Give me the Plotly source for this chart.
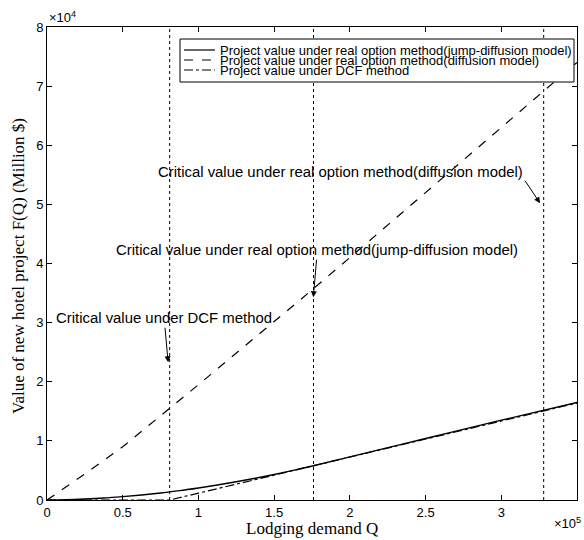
import plotly.graph_objects as go

# Lodging demand Q (x 1e5) and project values F(Q) (x 1e4 Million $)
q_jump = [0, 0.125, 0.25, 0.375, 0.5, 0.625, 0.75, 0.875, 1.0, 1.125, 1.25, 1.375, 1.5, 1.625, 1.76, 2.0, 2.5, 3.0, 3.5]
f_jump = [0, 0.004, 0.016, 0.033, 0.057, 0.085, 0.119, 0.158, 0.204, 0.253, 0.308, 0.367, 0.432, 0.502, 0.58, 0.73, 1.04, 1.35, 1.65]

q_diff = [0, 0.25, 0.5, 0.81, 1.0, 1.5, 1.67, 2.0, 2.5, 3.0, 3.5]
f_diff = [0, 0.44, 0.9, 1.55, 1.95, 3.02, 3.38, 4.1, 5.2, 6.3, 7.4]

q_dcf = [0, 0.81, 1.0, 1.5, 2.0, 2.5, 3.0, 3.5]
f_dcf = [0, 0, 0.116, 0.42, 0.726, 1.03, 1.336, 1.64]

critical_q = [0.81, 1.76, 3.28]

x_ticks = [0, 0.5, 1, 1.5, 2, 2.5, 3, 3.5]
x_ticktext = ["0", "0.5", "1", "1.5", "2", "2.5", "3", "3.5"]
y_ticks = [0, 1, 2, 3, 4, 5, 6, 7, 8]
y_ticktext = ["0", "1", "2", "3", "4", "5", "6", "7", "8"]

legend_names = [
    "Project value under real option method(jump-diffusion model)",
    "Project value under real option method(diffusion model)",
    "Project value under DCF method",
]
legend_dashes = ["solid", "dash", "dashdot"]

SANS = "Liberation Sans, Arial, Helvetica, sans-serif"
SERIF = "Liberation Serif, Times New Roman, serif"

fig = go.Figure()

for cq in critical_q:
    fig.add_trace(go.Scatter(x=[cq, cq], y=[0, 8], mode="lines",
                             line=dict(color="black", width=1, dash="dot"),
                             showlegend=False, hoverinfo="skip"))

fig.add_trace(go.Scatter(x=q_dcf, y=f_dcf, mode="lines", name=legend_names[2],
                         line=dict(color="black", width=1.2, dash="dashdot"), showlegend=False))
fig.add_trace(go.Scatter(x=q_diff, y=f_diff, mode="lines", name=legend_names[1],
                         line=dict(color="black", width=1.2, dash="dash"), showlegend=False))
fig.add_trace(go.Scatter(x=q_jump, y=f_jump, mode="lines", name=legend_names[0], line_shape="spline",
                         line=dict(color="black", width=1.4, dash="solid"), showlegend=False))

# Figure fills the whole window (body margin removed in post_script)
W, H = 584, 540
PL, PR, PT, PB = 47, 577, 27, 500  # plot area in window pixels
L, R, T, B = PL, W - PR, PT, H - PB
pw, ph = PR - PL, PB - PT
def px(xp):
    return (xp - PL) / pw
def py(yp):
    return (PB - yp) / ph

shapes = [dict(type="rect", xref="paper", yref="paper",
               x0=px(180), x1=px(574), y0=py(82), y1=py(39),
               line=dict(color="black", width=1), fillcolor="white", layer="above")]
annotations = []
rows_y = [50, 60, 70]
for name, dash, ry in zip(legend_names, legend_dashes, rows_y):
    shapes.append(dict(type="line", xref="paper", yref="paper",
                       x0=px(184), x1=px(215), y0=py(ry), y1=py(ry),
                       line=dict(color="black", width=1.2, dash=dash), layer="above"))
    annotations.append(dict(xref="paper", yref="paper", x=px(218), y=py(ry),
                            xanchor="left", yanchor="middle", showarrow=False,
                            text=name, font=dict(family=SANS, size=13, color="black")))

ann_font = dict(family=SANS, size=14.9, color="black")
# Critical value annotations
annotations.append(dict(x=1.935, y=5.54, xref="x", yref="y", showarrow=False,
                        text="Critical value under real option method(diffusion model)", font=ann_font))
annotations.append(dict(x=3.256, y=5.02, xref="x", yref="y", text="",
                        showarrow=True, ax=-16, ay=-24, arrowhead=2, arrowsize=1.2,
                        arrowwidth=1, arrowcolor="black"))
annotations.append(dict(x=1.759, y=3.43, xref="x", yref="y",
                        text="Critical value under real option method(jump-diffusion model)", font=ann_font,
                        showarrow=True, ax=4, ay=-47, arrowhead=2, arrowsize=1.2,
                        arrowwidth=1, arrowcolor="black"))
annotations.append(dict(x=0.80, y=2.33, xref="x", yref="y",
                        text="Critical value under DCF method", font=ann_font,
                        showarrow=True, ax=-4, ay=-44, arrowhead=2, arrowsize=1.2,
                        arrowwidth=1, arrowcolor="black"))

# Exponent labels
annotations.append(dict(xref="paper", yref="paper", x=0, y=1, xanchor="left", yanchor="bottom",
                        yshift=0, showarrow=False, text="×10<sup>4</sup>",
                        font=dict(family=SANS, size=13, color="black")))
annotations.append(dict(xref="paper", yref="paper", x=px(583), y=py(513), xanchor="right", yanchor="top",
                        showarrow=False, text="×10<sup>5</sup>",
                        font=dict(family=SANS, size=13, color="black")))

# Axis titles
annotations.append(dict(xref="paper", yref="paper", x=px(312), y=py(528), xanchor="center", yanchor="middle",
                        showarrow=False, text="Lodging demand Q",
                        font=dict(family=SERIF, size=17, color="black")))
annotations.append(dict(xref="paper", yref="paper", x=px(18), y=py(266), xanchor="center", yanchor="middle",
                        showarrow=False, textangle=-90, text="Value of new hotel project F(Q) (Million $)",
                        font=dict(family=SERIF, size=17, color="black")))

fig.update_layout(
    width=W, height=H,
    margin=dict(l=L, r=R, t=T, b=B),
    paper_bgcolor="white", plot_bgcolor="white",
    shapes=shapes, annotations=annotations,
    showlegend=False,
)
axis_common = dict(showgrid=False, zeroline=False, showline=True, linecolor="black", linewidth=1,
                   mirror="ticks", ticks="inside", ticklen=5, tickcolor="black", tickwidth=1,
                   tickfont=dict(family=SANS, size=13, color="black"))
fig.update_xaxes(range=[0, 3.5], tickvals=x_ticks, ticktext=x_ticktext, **axis_common)
fig.update_yaxes(range=[0, 8], tickvals=y_ticks, ticktext=y_ticktext, **axis_common)

fig.write_html(
    "out.html",
    config={"displayModeBar": False},
    post_script="document.body.style.margin='0';document.documentElement.style.overflow='hidden';document.body.style.overflow='hidden';",
)
